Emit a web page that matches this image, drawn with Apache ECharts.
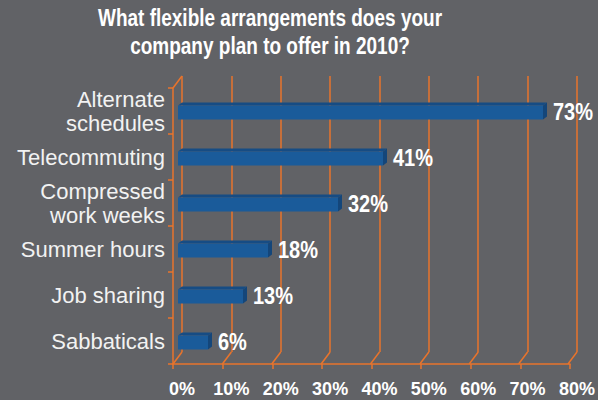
<!DOCTYPE html>
<html>
<head>
<meta charset="utf-8">
<title>Flexible arrangements 2010</title>
<script src="https://cdn.jsdelivr.net/npm/echarts@6/dist/echarts.min.js"></script>
<style>
  html, body { margin: 0; padding: 0; background: #616266; }
  #chart { width: 598px; height: 400px; }
</style>
</head>
<body>
<div id="chart"></div>
<script>
// Survey answers, top to bottom
const categories = [
  'Alternate\nschedules',
  'Telecommuting',
  'Compressed\nwork weeks',
  'Summer hours',
  'Job sharing',
  'Sabbaticals'
];
const shares = [73, 41, 32, 18, 13, 6];
const axisTicks = [0, 10, 20, 30, 40, 50, 60, 70, 80];
const heading = 'What flexible arrangements does your\ncompany plan to offer in 2010?';

const BG = '#616266';
const ORANGE = '#e8742c';
const FONT = '"Liberation Sans", Arial, sans-serif';
const DEPTH = [9, -12]; // back wall sits up and to the right of the floor edge

const chart = echarts.init(document.getElementById('chart'), null, { renderer: 'svg' });

// 3D-looking horizontal bar: front face, top face and right end face
function renderBar(params, api) {
  const v = api.value(0);
  const cat = api.value(1);
  const a = api.coord([0, cat]);
  const b = api.coord([v, cat]);
  const c = a[1];
  const x0 = a[0], x1 = b[0];
  const t = c - 5.5, btm = c + 8.5;
  const dx = 4, dy = -3;
  return {
    type: 'group',
    children: [
      { type: 'polygon', shape: { points: [[x0, t], [x0 + dx, t + dy], [x1 + dx, t + dy], [x1, t]] },
        style: { fill: '#164c84' } },
      { type: 'polygon', shape: { points: [[x1, t], [x1 + dx, t + dy], [x1 + dx, btm + dy], [x1, btm]] },
        style: { fill: '#14467a' } },
      { type: 'rect', shape: { x: x0, y: t, width: x1 - x0, height: btm - t },
        style: { fill: '#1a5b9a' } },
      { type: 'text', x: x1 + dx + 6, y: c + 1, scaleY: 1.2,
        style: { text: v + '%', fill: '#ffffff', font: 'bold 20px ' + FONT,
                 textAlign: 'left', textVerticalAlign: 'middle' } }
    ]
  };
}

// Diagonal links between the back wall and the front floor edge
function renderLink(params, api) {
  const p = api.coord([api.value(0), api.value(1)]);
  return {
    type: 'line',
    shape: { x1: p[0], y1: p[1], x2: p[0] - DEPTH[0], y2: p[1] - DEPTH[1] },
    style: { stroke: ORANGE, lineWidth: 1.5 }
  };
}

const linkData = axisTicks.map(v => [v, 0]).concat([[0, 1]]);

chart.setOption({
  backgroundColor: BG,
  animation: false,
  graphic: [{
    type: 'text', x: 270, y: 4, scaleY: 1.25, z: 10,
    style: { text: heading, fill: '#ffffff', font: 'bold 19px ' + FONT,
             lineHeight: 22.5, textAlign: 'center', textVerticalAlign: 'top' }
  }],
  grid: [
    { left: 182, right: 16, top: 76, bottom: 48 },   // back wall
    { left: 173, right: 28, top: 88, bottom: 36 },   // front edges
    { left: 178, right: 20, top: 88, bottom: 36 }    // bars
  ],
  xAxis: [
    { gridIndex: 0, type: 'value', min: 0, max: 80, interval: 10,
      axisLine: { show: false }, axisTick: { show: false },
      splitLine: { show: true, lineStyle: { color: ORANGE, width: 1.5 } },
      axisLabel: { show: true, formatter: '{value}%', margin: 28, color: '#ffffff',
                   fontFamily: FONT, fontWeight: 'bold', fontSize: 18 } },
    { gridIndex: 1, type: 'value', min: 0, max: 80, interval: 10,
      axisLine: { show: true, lineStyle: { color: ORANGE, width: 1.5 } },
      axisTick: { show: true, length: 5, lineStyle: { color: ORANGE, width: 1.5 } },
      splitLine: { show: false }, axisLabel: { show: false } },
    { gridIndex: 2, type: 'value', min: 0, max: 80, show: false }
  ],
  yAxis: [
    { gridIndex: 0, type: 'value', min: 0, max: 1, show: false },
    { gridIndex: 1, type: 'category', data: categories, inverse: true,
      axisLine: { show: true, lineStyle: { color: ORANGE, width: 1.5 } },
      axisTick: { show: true, length: 5, lineStyle: { color: ORANGE, width: 1.5 } },
      splitLine: { show: false },
      axisLabel: { color: '#f2f2f2', fontFamily: FONT, fontSize: 22, lineHeight: 24, margin: 8, align: 'right' } },
    { gridIndex: 2, type: 'category', data: categories, inverse: true, show: false }
  ],
  series: [
    { type: 'custom', xAxisIndex: 0, yAxisIndex: 0, data: linkData,
      renderItem: renderLink, silent: true, z: 1 },
    { type: 'custom', xAxisIndex: 2, yAxisIndex: 2,
      data: shares.map((v, i) => [v, i]),
      encode: { x: 0, y: 1 },
      renderItem: renderBar, silent: true, z: 5 }
  ]
});
</script>
</body>
</html>
